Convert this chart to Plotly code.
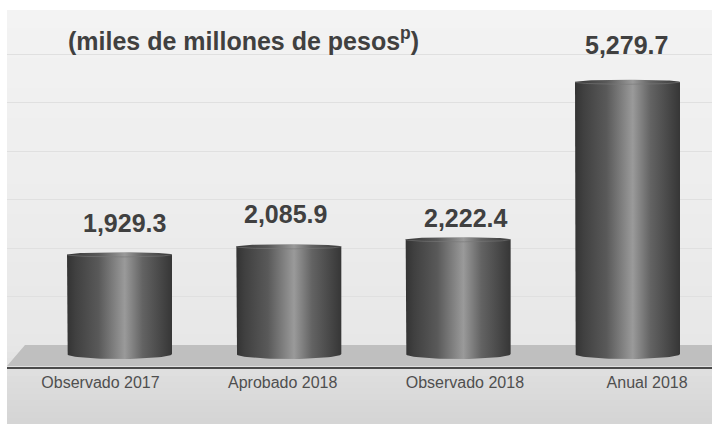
import numpy as np
import plotly.graph_objects as go

# ---------------- data ----------------
categories = ["Observado 2017", "Aprobado 2018", "Observado 2018", "Anual 2018"]
values = [1929.3, 2085.9, 2222.4, 5279.7]
grid_values = [1000, 2000, 3000, 4000, 5000, 6000]
title_text = "(miles de millones de pesos<sup>p</sup>)"

# ---------------- style ----------------
W, H = 712, 424
PL, PR, PT, PB = 7, 712, 10, 367          # plot area in pixels
BAR_W = 0.62
BOT_ELL = 97      # bottom ellipse half height (data units)
TOP_ELL = 45      # top ellipse half height (data units)
label_dx = [5, -3, 8, -1]                 # px
label_gap = [16, 17, 6, 21]               # px
TXT = "#404040"

def fx(px):
    return (px - PL) / (PR - PL)

def fy(py):
    return (PB - py) / (PB - PT)

fig = go.Figure()

# background gradient bands (panel)
stops = [(10, 243), (200, 237), (345, 231), (367, 224), (424, 212)]
def gray_at(y):
    for (y0, c0), (y1, c1) in zip(stops[:-1], stops[1:]):
        if y0 <= y <= y1:
            return c0 + (c1 - c0) * (y - y0) / (y1 - y0)
    return stops[-1][1]

shapes = []
band_edges = np.linspace(10, 424, 70)
for a, b in zip(band_edges[:-1], band_edges[1:]):
    g = int(round(gray_at((a + b) / 2)))
    shapes.append(dict(type="rect", xref="paper", yref="paper",
                       x0=fx(PL), x1=fx(PR), y0=fy(b + 0.5), y1=fy(a),
                       fillcolor=f"rgb({g},{g},{g})", line=dict(width=0),
                       layer="below"))

# floor
floor_path = (f"M {fx(25)} {fy(345)} L {fx(712)} {fy(345)} L {fx(712)} {fy(366)} "
              f"L {fx(7)} {fy(366)} Z")
shapes.append(dict(type="path", xref="paper", yref="paper", path=floor_path,
                   fillcolor="#bfbfbf", line=dict(width=0), layer="between"))

grad = [[0.0, "#333333"], [0.08, "#404040"], [0.3, "#595959"], [0.55, "#9a9a9a"],
        [0.72, "#636363"], [0.9, "#464646"], [1.0, "#363636"]]

t = np.linspace(0, np.pi, 40)
for i, v in enumerate(values):
    c = i
    hw = BAR_W / 2
    xs = [c - hw]
    ys = [v]
    xs += list(c - hw * np.cos(t))
    ys += list(-BOT_ELL * np.sin(t))
    xs += list(c + hw * np.cos(t))
    ys += list(v + TOP_ELL * np.sin(t))
    fig.add_trace(go.Scatter(x=xs, y=ys, mode="lines", fill="toself",
                             line=dict(width=0, color="rgba(0,0,0,0)"),
                             fillgradient=dict(type="horizontal", colorscale=grad),
                             hoverinfo="skip", showlegend=False))
    fig.add_trace(go.Scatter(x=list(c - hw * np.cos(t)), y=list(v - TOP_ELL * np.sin(t)),
                             mode="lines", line=dict(width=1, color="rgba(120,120,120,0.6)"),
                             hoverinfo="skip", showlegend=False))

# invisible helpers for overlay axes
fig.add_trace(go.Scatter(x=list(range(len(categories))), y=[None] * len(categories),
                         xaxis="x2", yaxis="y", mode="markers", showlegend=False,
                         hoverinfo="skip"))
fig.add_trace(go.Scatter(x=[0], y=[None], xaxis="x", yaxis="y2", mode="markers",
                         showlegend=False, hoverinfo="skip"))

annotations = []
for i, v in enumerate(values):
    annotations.append(dict(x=i, y=v, xref="x", yref="y", text=f"{v:,.1f}",
                            showarrow=False, xanchor="center", yanchor="bottom",
                            xshift=label_dx[i], yshift=label_gap[i],
                            font=dict(family="Liberation Sans, Arial", size=25,
                                      color=TXT, weight="bold")))
annotations.append(dict(x=fx(66), y=fy(39), xref="paper", yref="paper",
                        text=title_text, showarrow=False, xanchor="left",
                        yanchor="middle",
                        font=dict(family="Liberation Sans, Arial", size=25,
                                  color=TXT, weight="bold")))

ZERO_PX = 354
PPU = (354 - 82) / 5279.7
y_lo = -(PB - ZERO_PX) / PPU
y_hi = (ZERO_PX - PT) / PPU
G0, GP = 345, 48.5 / 1000
y2_lo = -(PB - G0) / GP
y2_hi = (G0 - PT) / GP
XC, XS = 119.5, 169.33
TC, TS = 100.5, 182.2

fig.update_layout(
    width=W, height=H,
    margin=dict(l=PL, r=W - PR, t=PT, b=H - PB, pad=0),
    paper_bgcolor="white", plot_bgcolor="rgba(0,0,0,0)",
    showlegend=False,
    shapes=shapes, annotations=annotations,
    xaxis=dict(range=[(PL - XC) / XS, (PR - XC) / XS], showgrid=False, zeroline=False,
               showticklabels=False, showline=True, linecolor="#4a4a4a", linewidth=2,
               fixedrange=True),
    xaxis2=dict(overlaying="x", anchor="y", side="bottom",
                range=[(PL - TC) / TS, (PR - TC) / TS],
                tickvals=list(range(len(categories))), ticktext=categories,
                showgrid=False, zeroline=False, showline=False, ticks="",
                ticklabelstandoff=4,
                tickfont=dict(family="Liberation Sans, Arial", size=16, color="#4f4f4f"),
                fixedrange=True),
    yaxis=dict(range=[y_lo, y_hi], visible=False, fixedrange=True),
    yaxis2=dict(overlaying="y", range=[y2_lo, y2_hi], tickvals=grid_values,
                showticklabels=False, showgrid=True, gridcolor="#e0e0e0", gridwidth=1,
                zeroline=False, showline=False, fixedrange=True),
)

fig.write_html("out.html", config={"displayModeBar": False},
               post_script="document.body.style.margin='0';")
